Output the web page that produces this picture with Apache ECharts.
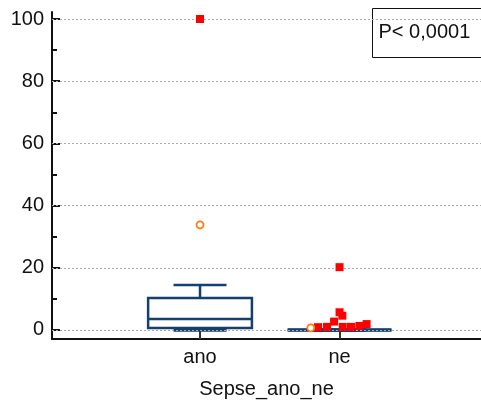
<!DOCTYPE html>
<html>
<head>
<meta charset="utf-8">
<script src="https://cdn.jsdelivr.net/npm/echarts@6/dist/echarts.min.js"></script>
<style>
  html, body { margin: 0; padding: 0; background: #fff; }
  #chart { width: 481px; height: 401px; }
</style>
</head>
<body>
<div id="chart"></div>
<script>
// Groups on the x axis (group position = index + 1)
const categories = ['ano', 'ne'];
// Box statistics per group: [min whisker, Q1, median, Q3, max whisker]
const boxStats = [
  [0, 0.6, 3.5, 10.3, 14.5],
  [0, 0, 0, 0, 0]
];
// Far outliers (filled squares): [x position, value]
const farOutliers = [
  [1.0, 100],
  [2.0, 20.2],
  [1.846, 0.9], [1.910, 1.0], [1.961, 2.7], [2.0, 5.7], [2.02, 4.6],
  [2.023, 1.0], [2.082, 1.0], [2.142, 1.3], [2.194, 1.9]
];
// Near outliers (open circles): [x position, value]
const nearOutliers = [
  [1.0, 33.8],
  [1.794, 0.7]
];
const yTicks = [0, 20, 40, 60, 80, 100];
const yMinorTicks = [10, 30, 50, 70, 90];
const pValueText = 'P< 0,0001';

const boxColor = '#143f6f';
const font = 'Liberation Sans, Arial, sans-serif';

const boxData = boxStats.map((s, i) => [i + 1].concat(s));

const chart = echarts.init(document.getElementById('chart'), null, { renderer: 'canvas' });

const xMin = -0.061, xMax = 3.014;
const yMin = -2.9, yMax = 102.25;

chart.setOption({
  animation: false,
  backgroundColor: '#fff',
  grid: { left: 52, right: 0, top: 12, bottom: 62, containLabel: false, outerBoundsMode: 'none' },
  xAxis: {
    type: 'value',
    min: xMin,
    max: xMax,
    name: 'Sepse_ano_ne',
    nameLocation: 'middle',
    nameGap: 40,
    nameTextStyle: { color: '#111', fontSize: 20, fontFamily: font },
    axisLine: { show: true, onZero: false, lineStyle: { color: '#111', width: 2 } },
    axisTick: { show: true, inside: true, length: 8, customValues: [1, 2], lineStyle: { color: '#333', width: 2 } },
    axisLabel: {
      show: true,
      customValues: [1, 2],
      margin: 8,
      color: '#111',
      fontSize: 20,
      fontFamily: font,
      formatter: v => categories[Math.round(v) - 1] || ''
    },
    splitLine: { show: false }
  },
  yAxis: [{
    type: 'value',
    min: yMin,
    max: yMax,
    position: 'left',
    offset: 0,
    axisLine: { show: true, onZero: false, lineStyle: { color: '#111', width: 2 } },
    axisTick: { show: true, inside: true, length: 8, customValues: yTicks, lineStyle: { color: '#111', width: 2 } },
    axisLabel: { customValues: yTicks, margin: 8, color: '#111', fontSize: 20, fontFamily: font },
    splitLine: { show: false }
  }, {
    // minor ticks between the labelled ones
    type: 'value',
    position: 'left',
    offset: 0,
    min: yMin,
    max: yMax,
    axisLine: { show: false, onZero: false },
    axisTick: { show: true, inside: true, length: 5, customValues: yMinorTicks, lineStyle: { color: '#111', width: 2 } },
    axisLabel: { show: false },
    splitLine: { show: false }
  }],
  graphic: [{
    type: 'group',
    left: 372,
    top: 8,
    children: [{
      type: 'rect',
      shape: { x: 0, y: 0, width: 130, height: 49 },
      style: { fill: '#fff', stroke: '#111', lineWidth: 1 }
    }, {
      type: 'text',
      x: 6,
      y: 24,
      style: { text: pValueText, fill: '#111', font: '20px ' + font, verticalAlign: 'middle' }
    }]
  }],
  series: [{
    // dotted grid lines at the labelled y ticks
    type: 'line',
    data: [],
    markLine: {
      silent: true,
      symbol: 'none',
      label: { show: false },
      lineStyle: { type: [2, 2], color: '#aaa', width: 1 },
      data: yTicks.map(v => ({ yAxis: v }))
    }
  }, {
    type: 'custom',
    data: boxData,
    z: 3,
    renderItem: function (params, api) {
      const x = api.value(0);
      const lo = api.value(1), q1 = api.value(2), med = api.value(3), q3 = api.value(4), hi = api.value(5);
      const halfBox = 0.372, halfCap = 0.19;
      const pL = api.coord([x - halfBox, q3]);
      const pR = api.coord([x + halfBox, q1]);
      const c = api.coord([x, med]);
      const capL = api.coord([x - halfCap, 0])[0];
      const capR = api.coord([x + halfCap, 0])[0];
      const yHi = api.coord([x, hi])[1];
      const yLo = api.coord([x, lo])[1];
      const yQ1 = pR[1], yQ3 = pL[1];
      const flat = yQ1 - yQ3 < 1;
      const st = { stroke: boxColor, lineWidth: 2.5, fill: null };
      return {
        type: 'group',
        children: [
          { type: 'line', shape: { x1: c[0], y1: yQ3, x2: c[0], y2: yHi }, style: st },
          { type: 'line', shape: { x1: capL, y1: yHi, x2: capR, y2: yHi }, style: st },
          { type: 'line', shape: { x1: c[0], y1: yQ1, x2: c[0], y2: yLo }, style: st },
          { type: 'line', shape: { x1: capL, y1: yLo, x2: capR, y2: yLo }, style: { stroke: boxColor, lineWidth: 3.5 } },
          { type: 'rect', shape: { x: pL[0], y: yQ3, width: pR[0] - pL[0], height: Math.max(yQ1 - yQ3, 0) },
            style: { stroke: boxColor, lineWidth: flat ? 3.5 : 2.5, fill: flat ? boxColor : '#fff' } },
          { type: 'line', shape: { x1: pL[0], y1: c[1], x2: pR[0], y2: c[1] }, style: st }
        ]
      };
    }
  }, {
    type: 'scatter',
    data: farOutliers,
    symbol: 'rect',
    symbolSize: 8,
    z: 5,
    itemStyle: { color: '#ff0000', opacity: 1 }
  }, {
    type: 'scatter',
    data: nearOutliers,
    symbol: 'circle',
    symbolSize: 7,
    z: 5,
    itemStyle: { color: '#fff', borderColor: '#ff7a10', borderWidth: 1.8, opacity: 1 }
  }]
});
</script>
</body>
</html>
